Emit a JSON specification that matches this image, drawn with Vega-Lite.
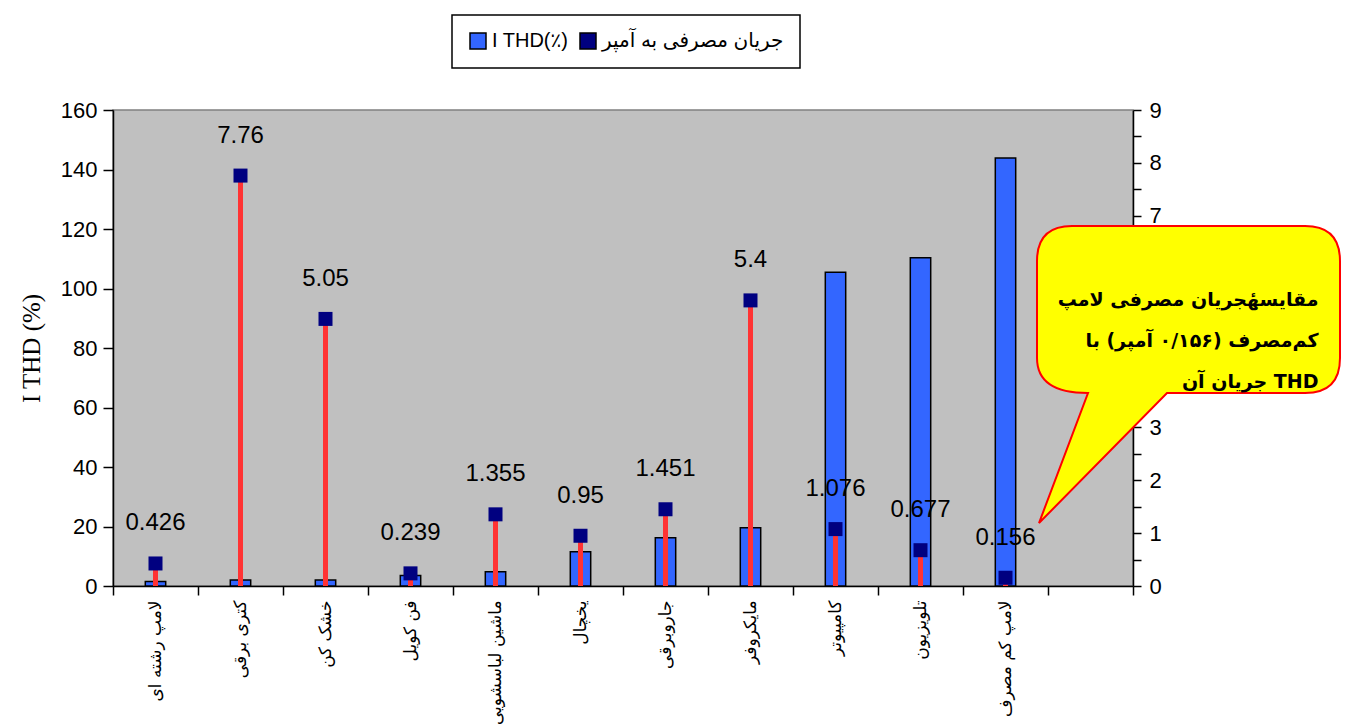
{
  "$schema": "https://vega.github.io/schema/vega-lite/v6.json",
  "width": 1020,
  "height": 476,
  "autosize": {"type": "none"},
  "padding": {"left": 113, "top": 110, "right": 225, "bottom": 140},
  "background": "white",
  "config": {
    "view": {"fill": "#c0c0c0", "stroke": "#808080", "strokeWidth": 1.5},
    "axis": {"grid": false, "domainColor": "black", "tickColor": "black", "labelColor": "black", "domainWidth": 1.5, "tickWidth": 1.5},
    "legend": {
      "orient": "none", "legendX": 339, "legendY": -95, "direction": "horizontal",
      "strokeColor": "black", "strokeWidth": 1.5, "fillColor": "white", "padding": 16,
      "symbolType": "square", "symbolSize": 256, "symbolStrokeColor": "black", "symbolStrokeWidth": 1.5,
      "labelFont": "Liberation Sans, DejaVu Sans", "labelFontSize": 20, "labelColor": "black",
      "columnPadding": 8, "labelLimit": 400, "symbolOpacity": 1
    }
  },
  "data": {"values": [
    {"device": "لامپ رشته ای", "thd": 1.5, "current": 0.426},
    {"device": "کتری برقی", "thd": 2, "current": 7.76},
    {"device": "خشک کن", "thd": 2, "current": 5.05},
    {"device": "فن کویل", "thd": 3.5, "current": 0.239},
    {"device": "ماشین لباسشویی", "thd": 4.8, "current": 1.355},
    {"device": "یخچال", "thd": 11.5, "current": 0.95},
    {"device": "جاروبرقی", "thd": 16.2, "current": 1.451},
    {"device": "مایکروفر", "thd": 19.6, "current": 5.4},
    {"device": "کامپیوتر", "thd": 105.5, "current": 1.076},
    {"device": "تلویزیون", "thd": 110.3, "current": 0.677},
    {"device": "لامپ کم مصرف", "thd": 143.9, "current": 0.156}
  ]},
  "layer": [
    {
      "mark": {"type": "bar", "width": {"band": 0.24}, "stroke": "black", "strokeWidth": 1.5},
      "encoding": {
        "x": {"field": "device", "type": "nominal", "sort": null,
          "scale": {"domain": ["لامپ رشته ای", "کتری برقی", "خشک کن", "فن کویل", "ماشین لباسشویی", "یخچال", "جاروبرقی", "مایکروفر", "کامپیوتر", "تلویزیون", "لامپ کم مصرف", "_"], "paddingInner": 0, "paddingOuter": 0},
          "axis": {"title": null, "tickBand": "extent", "tickSize": 9, "labelAngle": -90, "labelFont": "DejaVu Sans", "labelFontSize": 17, "labelPadding": 5, "labelLimit": 200, "labelExpr": "datum.value == '_' ? '' : datum.value"}},
        "y": {"field": "thd", "type": "quantitative", "scale": {"domain": [0, 160], "nice": false},
          "axis": {"title": "I THD (%)", "titleFont": "Liberation Serif", "titleFontSize": 25, "titleFontWeight": "normal", "titleColor": "black", "titlePadding": 16,
            "values": [0, 20, 40, 60, 80, 100, 120, 140, 160], "labelFont": "Liberation Sans", "labelFontSize": 22, "tickSize": 10, "labelPadding": 6}},
        "color": {"datum": "I THD(٪)", "type": "nominal",
          "scale": {"domain": ["I THD(٪)", "جریان مصرفی به آمپر"], "range": ["#3366ff", "#000080"]},
          "legend": {"title": null}}
      }
    },
    {
      "layer": [
        {"mark": {"type": "rule", "color": "#ff3333", "strokeWidth": 5}, "encoding": {"y2": {"datum": 0}}},
        {"mark": {"type": "point", "shape": "square", "filled": true, "size": 196, "opacity": 1}, "encoding": {"color": {"datum": "جریان مصرفی به آمپر", "type": "nominal"}}},
        {"mark": {"type": "text", "dy": -40, "font": "Liberation Sans", "fontSize": 24, "color": "black"}, "encoding": {"text": {"field": "current", "type": "nominal"}}},
        {"data": {"values": [{"device": "_", "current": 1.19}]},
          "mark": {"type": "point", "shape": "M -0.515 0 L -0.025 -1.3 Q -0.535 -1.3 -0.535 -1.65 L -0.535 -2.62 Q -0.535 -2.97 -0.185 -2.97 L 2.145 -2.97 Q 2.495 -2.97 2.495 -2.62 L 2.495 -1.65 Q 2.495 -1.3 2.145 -1.3 L 0.765 -1.3 Z",
            "size": 40000, "filled": true, "fill": "#ffff00", "stroke": "#ff0000", "strokeWidth": 2, "opacity": 1}},
        {"data": {"values": [{"device": "_", "current": 5.41, "note": "\u202bمقایسهٔجریان مصرفی لامپ\u202c\n\u202bکم‌مصرف (۰/۱۵۶ آمپر) با\u202c\n\u202bTHD جریان آن\u202c"}]},
          "mark": {"type": "text", "align": "right", "baseline": "middle", "dx": 228, "lineBreak": "\n", "lineHeight": 41, "font": "DejaVu Sans", "fontWeight": "bold", "fontSize": 19, "color": "black"},
          "encoding": {"text": {"field": "note", "type": "nominal"}}}
      ],
      "encoding": {
        "x": {"field": "device", "type": "nominal", "sort": null,
          "scale": {"domain": ["لامپ رشته ای", "کتری برقی", "خشک کن", "فن کویل", "ماشین لباسشویی", "یخچال", "جاروبرقی", "مایکروفر", "کامپیوتر", "تلویزیون", "لامپ کم مصرف", "_"], "paddingInner": 0, "paddingOuter": 0},
          "axis": {"title": null, "tickBand": "extent", "tickSize": 9, "labelAngle": -90, "labelFont": "DejaVu Sans", "labelFontSize": 17, "labelPadding": 5, "labelLimit": 200, "labelExpr": "datum.value == '_' ? '' : datum.value"}},
        "y": {"field": "current", "type": "quantitative", "scale": {"domain": [0, 9], "nice": false},
          "axis": {"orient": "right", "title": null, "values": [0, 0.5, 1, 1.5, 2, 2.5, 3, 3.5, 4, 4.5, 5, 5.5, 6, 6.5, 7, 7.5, 8, 8.5, 9],
            "labelExpr": "datum.value % 1 == 0 ? format(datum.value, 'd') : ''", "labelOverlap": false, "labelFont": "Liberation Sans", "labelFontSize": 22, "tickSize": 8, "labelPadding": 8}}
      }
    }
  ],
  "resolve": {"scale": {"y": "independent"}}
}
